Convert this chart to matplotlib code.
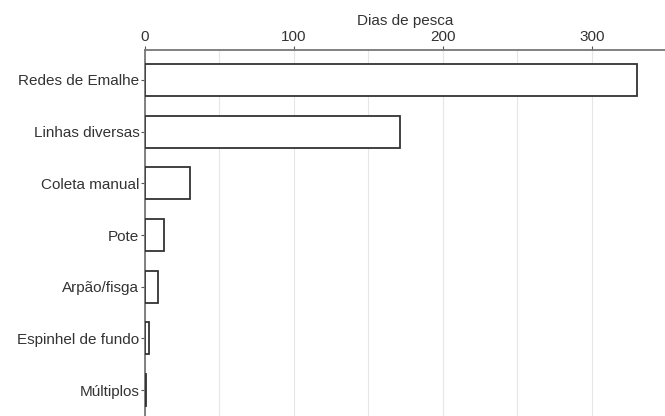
import matplotlib
matplotlib.use("Agg")
import matplotlib.pyplot as plt

categories = ["Redes de Emalhe", "Linhas diversas", "Coleta manual", "Pote",
              "Arpão/fisga", "Espinhel de fundo", "Múltiplos"]
values = [330, 171, 30, 13, 9, 2.5, 1]
xticks = [0, 100, 200, 300]

plt.rcParams['font.family'] = ['Liberation Sans', 'DejaVu Sans']
fig = plt.figure(figsize=(6.65, 4.16), dpi=100)
ax = fig.add_axes([145/665, 0, 1 - 145/665, 1 - 50/416])

ypos = list(range(len(categories)))
ax.barh(ypos, values, height=0.62, color="white", edgecolor="#333333", linewidth=1.3, zorder=3)
ax.set_yticks(ypos)
ax.set_yticklabels(categories, fontsize=11, color="#333333")
ax.set_ylim(6.5, -0.58)
ax.set_xlim(0, 349)
ax.xaxis.tick_top()
ax.xaxis.set_label_position("top")
ax.set_xticks(xticks)
ax.set_xticks([50, 150, 250], minor=True)
ax.set_xticklabels([str(t) for t in xticks], fontsize=11, color="#333333")
ax.set_xlabel("Dias de pesca", fontsize=11, color="#333333", labelpad=4)
ax.grid(axis="x", which="both", color="#e6e6e6", linewidth=0.8, zorder=0)
ax.tick_params(axis="both", which="major", length=3, color="#555555", pad=1)
ax.tick_params(axis="x", which="minor", length=0)
for s in ["right", "bottom"]:
    ax.spines[s].set_visible(False)
for s in ["left", "top"]:
    ax.spines[s].set_color("#777777")
    ax.spines[s].set_linewidth(1.3)

fig.savefig("out.png", dpi=100)
